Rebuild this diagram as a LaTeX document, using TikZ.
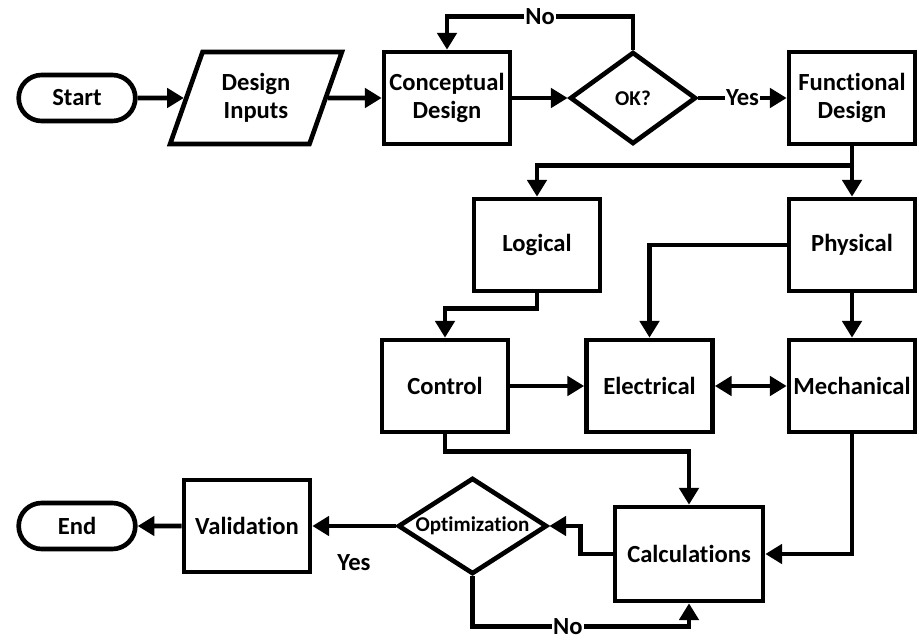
\documentclass[tikz,border=0pt]{standalone}
\usepackage{fontspec}
\setmainfont{Carlito}[Ligatures=NoCommon]
\usetikzlibrary{shapes,arrows.meta,positioning,calc}

\begin{document}
\begin{tikzpicture}[x=0.025cm, y=-0.025cm, line width=3.3pt,
    font=\bfseries\fontsize{17.5}{20}\selectfont,
    block/.style={rectangle, draw, align=center, inner sep=2pt, minimum width=3.15cm, minimum height=2.3cm},
    term/.style={rounded rectangle, draw, minimum width=3.15cm, minimum height=1.15cm},
    io/.style={trapezium, draw, align=center, trapezium left angle=68, trapezium right angle=112, trapezium stretches=true, minimum width=4.3cm, minimum height=2.3cm},
    decision/.style={diamond, draw, aspect=1.55, inner sep=1pt, minimum width=3.15cm, minimum height=2.3cm, font=\bfseries\fontsize{15}{17}\selectfont},
    arr/.style={-{Triangle[length=0.42cm,width=0.48cm]}},
    darr/.style={{Triangle[length=0.42cm,width=0.48cm]}-{Triangle[length=0.42cm,width=0.48cm]}},
    lbl/.style={fill=white, inner sep=1pt}]
    \useasboundingbox (0,0) rectangle (919,642);

    % top row
    \node[term] (start) at (77,98) {Start};
    \node[io] (inputs) at (256,98) {Design\\Inputs};
    \node[block] (concept) at (447,98) {Conceptual\\Design};
    \node[decision] (ok) at (633,98) {OK?};
    \node[block] (func) at (852,98) {Functional\\Design};

    % middle rows
    \node[block] (logical) at (537,245) {Logical};
    \node[block] (physical) at (852,245) {Physical};
    \node[block] (control) at (445,386) {Control};
    \node[block] (electrical) at (649.5,386) {Electrical};
    \node[block] (mechanical) at (852,386) {Mechanical};

    % bottom row
    \node[block, minimum width=3.7cm, minimum height=2.35cm] (calc) at (689,554) {Calculations};
    \node[decision, minimum width=3.7cm] (optim) at (472.5,526) {Optimization};
    \node[block] (valid) at (247,526) {Validation};
    \node[term] (end) at (77,526) {End};

    \draw[arr] (start) -- (inputs);
    \draw[arr] (inputs) -- (concept);
    \draw[arr] (concept) -- (ok);
    \draw[arr] (ok.north) -- ++(0,-33) -| node[pos=0.25, lbl] {No} (concept.north);
    \draw[arr] (ok) -- node[lbl] {Yes} (func);
    \draw[arr] (func) -- (physical);
    \draw[arr] (func.south) ++(0,19) -| (logical.north);
    \draw[arr] (physical.west) -| (electrical.north);
    \draw[arr] (physical) -- (mechanical);
    \draw[arr] (logical.south) -- ++(0,15) -| (control.north);
    \draw[arr] (control) -- (electrical);
    \draw[darr] (electrical) -- (mechanical);
    \draw[arr] (control.south) -- ++(0,17) -| (calc.north);
    \draw[arr] (mechanical.south) |- (calc.east);
    \draw[arr] (calc.west) -- ++(-32,0) |- (optim.east);
    \draw[arr] (optim.south) -- ++(0,50) -| node[pos=0.22, lbl] {No} (calc.south);
    \draw[arr] (optim) -- node[below=0.55cm] {Yes} (valid);
    \draw[arr] (valid) -- (end);
\end{tikzpicture}
\end{document}
